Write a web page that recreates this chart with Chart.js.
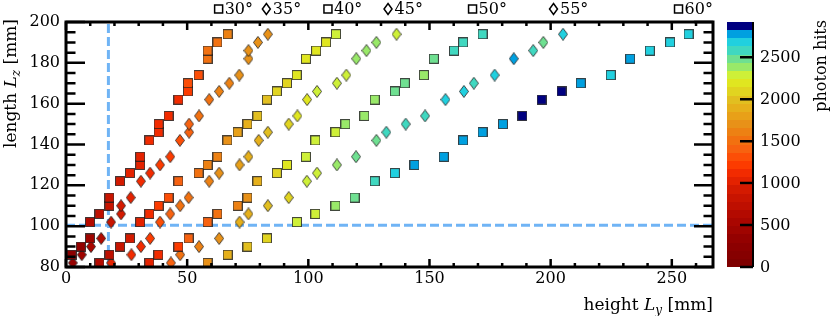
<!DOCTYPE html>
<html>
<head>
<meta charset="utf-8">
<script src="https://cdn.jsdelivr.net/npm/chart.js@4.4.1/dist/chart.umd.min.js"></script>
<style>
html, body { margin: 0; padding: 0; background: #fff; }
</style>
</head>
<body>
<canvas id="chart" width="830" height="316"></canvas>
<script>
// one label per scan angle
const angleLabels = ['30°', '35°', '40°', '45°', '50°', '55°', '60°'];

// rows of L_z shared by every angle (mm)
const lzRows = [82, 86, 90, 94, 102, 106, 110, 114, 122, 126, 130, 134, 142, 146, 150, 154, 162, 166, 170, 174, 182, 186, 190, 194];

const ly30 = [2.3, 6.1, 9.9, 9.9, 13.8, 17.9, 17.9, 22.3, 26.4, 30.6, 30.6, 34.4, 38.2, 38.2, 42.3, 46.4, 50.3, 50.3, 54.7, 58.4, 58.4, 62.5, 66.7];
const lz30 = [86, 90, 94, 102, 106, 110, 114, 122, 126, 130, 134, 142, 146, 150, 154, 162, 166, 170, 174, 182, 186, 190, 194];
const hits30 = [250, 350, 450, 600, 750, 850, 850, 950, 1000, 1050, 1050, 1100, 1100, 1100, 1150, 1150, 1250, 1300, 1350, 1500, 1500, 1550, 1600];

const ly35 = [2.8, 6.5, 10.3, 14.5, 18.6, 22.7, 22.7, 26.7, 30.9, 34.7, 38.8, 43, 47, 50.8, 50.8, 54.9, 59.1, 63.2, 67.4, 71.5, 75.3, 75.3, 79.2, 83.3];
const hits35 = [350, 450, 550, 650, 800, 900, 900, 1000, 1100, 1150, 1200, 1250, 1350, 1450, 1450, 1550, 1550, 1600, 1650, 1700, 1750, 1750, 1750, 1700];

const ly40 = [13.8, 17.9, 22.3, 26.4, 30.6, 34.4, 38.2, 42.3, 46.4, 54.7, 58.4, 62.5, 66.6, 70.8, 74.9, 79, 82.9, 87, 91.2, 95.2, 99, 103.2, 107.3, 111.4];
const hits40 = [600, 750, 850, 950, 1050, 1150, 1250, 1300, 1400, 1550, 1600, 1650, 1700, 1800, 1850, 1950, 2000, 2050, 2100, 2150, 2150, 2200, 2200, 2250];

const ly45 = [18.6, 27, 30.9, 34.7, 38.8, 43, 47.1, 50.6, 59.1, 63.2, 71.6, 75.3, 79.5, 83.3, 91.9, 95.5, 99.5, 103.6, 111.8, 115.7, 119.8, 124, 128.1, 136.4];
const hits45 = [1000, 1100, 1150, 1250, 1350, 1400, 1500, 1550, 1650, 1750, 1800, 1850, 1900, 1950, 2050, 2150, 2200, 2250, 2250, 2300, 2350, 2420, 2380, 2250];

const ly50 = [34.4, 38.1, 46.4, 50.6, 58.4, 62.5, 70.8, 74.9, 79, 87, 91.2, 99, 102.9, 111.2, 115.3, 123.1, 127.4, 135.7, 139.8, 147.7, 151.8, 160.1, 163.9, 171.9];
const hits50 = [1050, 1150, 1250, 1400, 1450, 1550, 1650, 1750, 1850, 2100, 2150, 2250, 2300, 2330, 2400, 2420, 2420, 2480, 2480, 2420, 2480, 2560, 2560, 2580];

const ly55 = [43.3, 47.1, 54.9, 63.2, 71.6, 75.3, 83.3, 91.9, 99.4, 103.6, 111.8, 119.7, 128.1, 132.2, 140.2, 148.2, 156.6, 164.2, 168.3, 176.9, 184.8, 192.8, 197, 205.1];
const hits55 = [1400, 1550, 1600, 1700, 1850, 1900, 2000, 2100, 2250, 2300, 2380, 2480, 2480, 2580, 2580, 2580, 2680, 2680, 2600, 2680, 2780, 2560, 2480, 2680];

const ly60 = [58.4, 66.7, 74.9, 82.9, 95.3, 102.9, 111.2, 119.1, 127.4, 135.7, 143.8, 155.9, 163.9, 171.9, 180.3, 188.3, 196.3, 204.5, 212.4, 224.8, 232.8, 240.9, 249.3, 256.9];
const hits60 = [1700, 1850, 2000, 2100, 2250, 2300, 2400, 2480, 2580, 2680, 2780, 2780, 2780, 2780, 2780, 2880, 2880, 2880, 2780, 2680, 2780, 2680, 2680, 2680];

// cut lines and axis ticks
const cutLy = 17.5;
const cutLz = 100.5;
const xTicks = [0, 50, 100, 150, 200, 250];
const yTicks = [80, 100, 120, 140, 160, 180, 200];
const hitTicks = [0, 500, 1000, 1500, 2000, 2500];
const hitMax = 2920;

const seriesLy = [ly30, ly35, ly40, ly45, ly50, ly55, ly60];
const seriesLz = [lz30, lzRows, lzRows, lzRows, lzRows, lzRows, lzRows];
const seriesHits = [hits30, hits35, hits40, hits45, hits50, hits55, hits60];
const shapes = ['sq', 'di', 'sq', 'di', 'sq', 'di', 'sq'];

const FONT = '"DejaVu Serif", serif';

// colour palette of the hit scale
const palStops = [
	[0, '#7c0000'], [300, '#900000'], [600, '#b00800'], [900, '#d01800'],
	[1100, '#f02800'], [1250, '#ff4000'], [1400, '#f86010'], [1550, '#f07810'],
	[1700, '#e89018'], [1850, '#e8a818'], [2000, '#e2c020'], [2150, '#e0e020'],
	[2250, '#e0f020'], [2300, '#c8f040'], [2400, '#90e870'], [2480, '#70e090'],
	[2580, '#40d8c0'], [2680, '#20d0e0'], [2770, '#00a0e0'], [2822, '#00a0e0'],
	[2823, '#000080'], [2920, '#000080']
];
const nBands = 30;

function hex2rgb(h) {
	const n = parseInt(h.slice(1), 16);
	return [(n >> 16) & 255, (n >> 8) & 255, n & 255];
}
function palColor(v) {
	for (let i = 1; i < palStops.length; i++) {
		if (v <= palStops[i][0]) {
			const [v0, c0] = palStops[i - 1];
			const [v1, c1] = palStops[i];
			const t = (v - v0) / (v1 - v0);
			const a = hex2rgb(c0), b = hex2rgb(c1);
			return 'rgb(' + a.map((q, k) => Math.round(q + (b[k] - q) * t)).join(',') + ')';
		}
	}
	return palStops[palStops.length - 1][1];
}
function bandColor(v) {
	const w = hitMax / nBands;
	const k = Math.min(nBands - 1, Math.max(0, Math.floor(v / w)));
	return palColor((k + 0.5) * w);
}

const markCache = {};
function marker(shape, color) {
	const key = shape + color;
	if (markCache[key]) return markCache[key];
	const c = document.createElement('canvas');
	if (shape === 'sq') {
		c.width = 10; c.height = 10;
		const g = c.getContext('2d');
		g.fillStyle = color;
		g.fillRect(0.5, 0.5, 9, 9);
		g.strokeStyle = 'rgba(30,30,30,0.8)';
		g.lineWidth = 1;
		g.strokeRect(0.5, 0.5, 9, 9);
	} else {
		c.width = 10; c.height = 13;
		const g = c.getContext('2d');
		g.beginPath();
		g.moveTo(5, 0.5); g.lineTo(9.5, 6.5); g.lineTo(5, 12.5); g.lineTo(0.5, 6.5);
		g.closePath();
		g.fillStyle = color;
		g.fill();
		g.strokeStyle = 'rgba(30,30,30,0.8)';
		g.lineWidth = 1;
		g.stroke();
	}
	markCache[key] = c;
	return c;
}

function richText(ctx, parts, x, y, align) {
	let w = 0;
	parts.forEach(p => { ctx.font = p.f; w += ctx.measureText(p.t).width; });
	let cx = align === 'right' ? x - w : x;
	parts.forEach(p => {
		ctx.font = p.f;
		ctx.fillText(p.t, cx, y + (p.dy || 0));
		cx += ctx.measureText(p.t).width;
	});
}

const decor = {
	id: 'decor',
	beforeDatasetsDraw(chart) {
		const { ctx, chartArea: a, scales: { x, y } } = chart;
		ctx.save();
		ctx.strokeStyle = '#70b4f5';
		ctx.lineWidth = 3;
		ctx.setLineDash([9, 4]);
		ctx.beginPath();
		const py = y.getPixelForValue(cutLz);
		ctx.moveTo(a.left, py); ctx.lineTo(a.right, py);
		const px = x.getPixelForValue(cutLy);
		ctx.moveTo(px, a.bottom); ctx.lineTo(px, a.top);
		ctx.stroke();
		ctx.restore();
	},
	afterDatasetsDraw(chart) {
		const { ctx, chartArea: a, scales: { x, y, cb } } = chart;
		ctx.save();
		ctx.strokeStyle = '#000';
		ctx.lineWidth = 2.5;
		ctx.beginPath();
		for (let v = 0; v <= 260; v += 10) {
			const px = x.getPixelForValue(v);
			const len = v % 50 === 0 ? 8 : 4;
			ctx.moveTo(px, a.bottom); ctx.lineTo(px, a.bottom - len);
			ctx.moveTo(px, a.top); ctx.lineTo(px, a.top + len);
		}
		for (let v = 80; v <= 200; v += 5) {
			const py = y.getPixelForValue(v);
			const len = v % 20 === 0 ? 19 : 9.5;
			ctx.moveTo(a.left, py); ctx.lineTo(a.left + len, py);
			ctx.moveTo(a.right, py); ctx.lineTo(a.right - len, py);
		}
		ctx.stroke();
		ctx.lineWidth = 3;
		ctx.strokeRect(a.left, a.top, a.right - a.left, a.bottom - a.top);

		// colour bar
		const bx = 727, bw = 26;
		const w = hitMax / nBands;
		for (let k = 0; k < nBands; k++) {
			const y0 = cb.getPixelForValue(k * w);
			const y1 = cb.getPixelForValue((k + 1) * w);
			ctx.fillStyle = palColor((k + 0.5) * w);
			ctx.fillRect(bx, Math.round(y1), bw, Math.round(y0) - Math.round(y1));
		}
		ctx.lineWidth = 2;
		ctx.beginPath();
		ctx.moveTo(bx + bw, cb.getPixelForValue(0));
		ctx.lineTo(bx + bw, cb.getPixelForValue(hitMax));
		ctx.stroke();
		ctx.lineWidth = 2.5;
		ctx.beginPath();
		hitTicks.forEach(v => {
			const py = cb.getPixelForValue(v);
			ctx.moveTo(bx + bw, py); ctx.lineTo(bx + bw - 13, py);
		});
		ctx.stroke();
		ctx.fillStyle = '#000';
		ctx.font = '16px ' + FONT;
		ctx.textAlign = 'left';
		ctx.textBaseline = 'middle';
		hitTicks.forEach(v => ctx.fillText(String(v), 760, cb.getPixelForValue(v) + 1));

		// axis titles
		ctx.textBaseline = 'alphabetic';
		const f = '17px ' + FONT, fi = 'italic 17px ' + FONT, fs = 'italic 12px ' + FONT;
		richText(ctx, [{ t: 'height ', f }, { t: 'L', f: fi }, { t: 'y', f: fs, dy: 4 }, { t: ' [mm]', f }], a.right, 309.5, 'right');
		ctx.save();
		ctx.translate(16, a.top - 3);
		ctx.rotate(-Math.PI / 2);
		richText(ctx, [{ t: 'length ', f }, { t: 'L', f: fi }, { t: 'z', f: fs, dy: 4 }, { t: ' [mm]', f }], 0, 0, 'right');
		ctx.restore();
		ctx.save();
		ctx.translate(826, 20);
		ctx.rotate(-Math.PI / 2);
		ctx.font = '16px ' + FONT;
		ctx.textAlign = 'right';
		ctx.fillText('photon hits', 0, 0);
		ctx.restore();

		// angle labels above the last point of each series
		const nudge = [-14, -6, -13, -13, -15, -14, -15];
		ctx.font = '16px ' + FONT;
		ctx.textBaseline = 'middle';
		ctx.textAlign = 'left';
		ctx.lineWidth = 1.5;
		angleLabels.forEach((lab, s) => {
			const lys = seriesLy[s];
			const lx = x.getPixelForValue(lys[lys.length - 1]) + nudge[s];
			const ly = 9;
			ctx.beginPath();
			if (shapes[s] === 'sq') {
				ctx.rect(lx + 1, ly - 4, 8, 8);
			} else {
				ctx.moveTo(lx + 4.5, ly - 5.5); ctx.lineTo(lx + 8.5, ly);
				ctx.lineTo(lx + 4.5, ly + 5.5); ctx.lineTo(lx + 0.5, ly);
				ctx.closePath();
			}
			ctx.stroke();
			ctx.fillText(lab, lx + 11, ly + 1);
		});
		ctx.restore();
	}
};

const datasets = angleLabels.map((lab, s) => ({
	label: lab,
	data: seriesLy[s].map((v, i) => ({ x: v, y: seriesLz[s][i] })),
	pointStyle: c => marker(shapes[s], bandColor(seriesHits[s][c.dataIndex])),
	pointRadius: 5,
	pointHoverRadius: 5,
	showLine: false,
	xAxisID: 'x',
	yAxisID: 'y'
}));

const tickFont = { family: FONT, size: 16 };

new Chart(document.getElementById('chart'), {
	type: 'scatter',
	data: { datasets },
	plugins: [decor],
	options: {
		responsive: false,
		animation: false,
		events: [],
		layout: { padding: { top: 22, left: 0, right: 0, bottom: 0 } },
		plugins: { legend: { display: false }, tooltip: { enabled: false } },
		scales: {
			x: {
				type: 'linear', position: 'bottom', min: 0, max: 267,
				grid: { display: false, drawTicks: false },
				border: { display: false },
				afterBuildTicks: s => { s.ticks = xTicks.map(value => ({ value })); },
				afterFit: s => { s.height = 49; },
				ticks: { font: tickFont, color: '#000', padding: 2, maxRotation: 0, autoSkip: false }
			},
			y: {
				type: 'linear', position: 'left', min: 80, max: 200,
				grid: { display: false, drawTicks: false },
				border: { display: false },
				afterBuildTicks: s => { s.ticks = yTicks.map(value => ({ value })); },
				afterFit: s => { s.width = 66; },
				ticks: { font: tickFont, color: '#000', padding: 6, autoSkip: false }
			},
			cb: {
				type: 'linear', axis: 'y', position: 'right', min: 0, max: hitMax,
				grid: { display: false, drawTicks: false },
				border: { display: false },
				afterFit: s => { s.width = 117; },
				ticks: { display: false }
			}
		}
	}
});
</script>
</body>
</html>
